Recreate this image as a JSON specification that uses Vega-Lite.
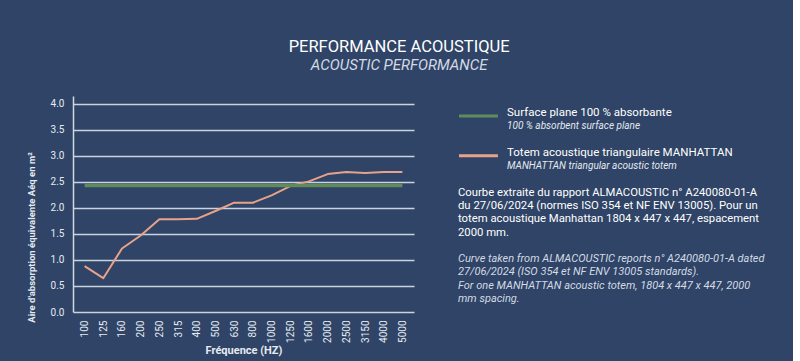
{
  "$schema": "https://vega.github.io/schema/vega-lite/v6.json",
  "background": "#2f4466",
  "padding": {"left": 26, "top": 38, "right": 5, "bottom": 5},
  "title": {
    "text": "PERFORMANCE ACOUSTIQUE",
    "subtitle": "ACOUSTIC PERFORMANCE",
    "anchor": "start",
    "align": "center",
    "dx": 373,
    "font": "Roboto",
    "fontSize": 16.5,
    "fontWeight": "normal",
    "color": "#ffffff",
    "subtitleFont": "Roboto",
    "subtitleFontSize": 15,
    "subtitleFontStyle": "italic",
    "subtitleColor": "#d3dae5",
    "subtitlePadding": 3,
    "offset": 23
  },
  "config": {
    "view": {"stroke": null},
    "font": "Roboto"
  },
  "spacing": 43,
  "hconcat": [
    {
      "width": 341,
      "height": 216,
      "data": {
        "values": [
          {"freq": "100", "value": 0.88, "series": "Totem acoustique triangulaire MANHATTAN"},
          {"freq": "125", "value": 0.65, "series": "Totem acoustique triangulaire MANHATTAN"},
          {"freq": "160", "value": 1.22, "series": "Totem acoustique triangulaire MANHATTAN"},
          {"freq": "200", "value": 1.47, "series": "Totem acoustique triangulaire MANHATTAN"},
          {"freq": "250", "value": 1.78, "series": "Totem acoustique triangulaire MANHATTAN"},
          {"freq": "315", "value": 1.78, "series": "Totem acoustique triangulaire MANHATTAN"},
          {"freq": "400", "value": 1.79, "series": "Totem acoustique triangulaire MANHATTAN"},
          {"freq": "500", "value": 1.94, "series": "Totem acoustique triangulaire MANHATTAN"},
          {"freq": "630", "value": 2.10, "series": "Totem acoustique triangulaire MANHATTAN"},
          {"freq": "800", "value": 2.10, "series": "Totem acoustique triangulaire MANHATTAN"},
          {"freq": "1000", "value": 2.24, "series": "Totem acoustique triangulaire MANHATTAN"},
          {"freq": "1250", "value": 2.42, "series": "Totem acoustique triangulaire MANHATTAN"},
          {"freq": "1600", "value": 2.51, "series": "Totem acoustique triangulaire MANHATTAN"},
          {"freq": "2000", "value": 2.65, "series": "Totem acoustique triangulaire MANHATTAN"},
          {"freq": "2500", "value": 2.69, "series": "Totem acoustique triangulaire MANHATTAN"},
          {"freq": "3150", "value": 2.67, "series": "Totem acoustique triangulaire MANHATTAN"},
          {"freq": "4000", "value": 2.69, "series": "Totem acoustique triangulaire MANHATTAN"},
          {"freq": "5000", "value": 2.69, "series": "Totem acoustique triangulaire MANHATTAN"},
          {"freq": "100", "value": 2.43, "series": "Surface plane 100 % absorbante"},
          {"freq": "5000", "value": 2.43, "series": "Surface plane 100 % absorbante"}
        ]
      },
      "mark": {"type": "line", "strokeJoin": "round"},
      "encoding": {
        "x": {
          "field": "freq",
          "type": "ordinal",
          "sort": ["100","125","160","200","250","315","400","500","630","800","1000","1250","1600","2000","2500","3150","4000","5000"],
          "scale": {"type": "point", "padding": 0.62},
          "axis": {
            "title": "Fréquence (HZ)",
            "titleFont": "Roboto",
            "titleFontSize": 11,
            "titleFontWeight": "bold",
            "titleColor": "#e6ebf2",
            "titlePadding": 2,
            "labelAngle": -90,
            "labelFont": "Roboto",
            "labelFontSize": 10,
            "labelColor": "#e6ebf2",
            "labelPadding": 8,
            "ticks": false,
            "domain": false,
            "grid": false
          }
        },
        "y": {
          "field": "value",
          "type": "quantitative",
          "scale": {"domain": [0, 4.15], "nice": false, "zero": true},
          "axis": {
            "title": "Aire d'absorption équivalente Aéq en m²",
            "titleFont": "Roboto",
            "titleFontSize": 9.5,
            "titleFontWeight": "bold",
            "titleColor": "#e6ebf2",
            "titleY": 141,
            "titlePadding": 14,
            "values": [0, 0.5, 1, 1.5, 2, 2.5, 3, 3.5, 4],
            "format": ".1f",
            "labelFont": "Roboto",
            "labelFontSize": 10,
            "labelColor": "#e6ebf2",
            "labelPadding": 9,
            "ticks": false,
            "domain": true,
            "domainColor": "#d0d8e4",
            "domainWidth": 1.5,
            "grid": true,
            "gridColor": "#c9d3e0",
            "gridWidth": 1.5,
            "gridOpacity": 1
          }
        },
        "color": {
          "field": "series",
          "type": "nominal",
          "scale": {
            "domain": ["Surface plane 100 % absorbante", "Totem acoustique triangulaire MANHATTAN"],
            "range": ["#5f8b5d", "#e9a28a"]
          },
          "legend": null
        },
        "strokeWidth": {
          "field": "series",
          "type": "nominal",
          "scale": {
            "domain": ["Surface plane 100 % absorbante", "Totem acoustique triangulaire MANHATTAN"],
            "range": [3.5, 2]
          },
          "legend": null
        }
      }
    },
    {
      "width": 330,
      "height": 216,
      "data": {
        "values": [
          {"line": 1, "kind": "main", "text": "Surface plane 100 % absorbante"},
          {"line": 2, "kind": "sub", "text": "100 % absorbent surface plane"},
          {"line": 4, "kind": "main", "text": "Totem acoustique triangulaire MANHATTAN"},
          {"line": 5, "kind": "sub", "text": "MANHATTAN triangular acoustic totem"},
          {"line": 7, "kind": "para", "text": "Courbe extraite du rapport ALMACOUSTIC n° A240080-01-A"},
          {"line": 8, "kind": "para", "text": "du 27/06/2024 (normes ISO 354 et NF ENV 13005). Pour un"},
          {"line": 9, "kind": "para", "text": "totem acoustique Manhattan 1804 x 447 x 447, espacement"},
          {"line": 10, "kind": "para", "text": "2000 mm."},
          {"line": 12, "kind": "paraEn", "text": "Curve taken from ALMACOUSTIC reports n° A240080-01-A dated"},
          {"line": 13, "kind": "paraEn", "text": "27/06/2024 (ISO 354 et NF ENV 13005 standards)."},
          {"line": 14, "kind": "paraEn", "text": "For one MANHATTAN acoustic totem, 1804 x 447 x 447, 2000"},
          {"line": 15, "kind": "paraEn", "text": "mm spacing."},
          {"line": 1, "kind": "symbol", "series": "Surface plane 100 % absorbante"},
          {"line": 4, "kind": "symbol", "series": "Totem acoustique triangulaire MANHATTAN"}
        ]
      },
      "encoding": {
        "y": {
          "field": "line",
          "type": "quantitative",
          "scale": {"domain": [-0.28, 15.98], "nice": false, "zero": false, "reverse": true},
          "axis": null
        }
      },
      "layer": [
        {
          "transform": [{"filter": "datum.kind === 'symbol'"}],
          "mark": {"type": "rule", "strokeWidth": 3, "yOffset": 3},
          "encoding": {
            "x": {"datum": 0.3, "type": "quantitative", "scale": {"domain": [0, 100], "nice": false, "zero": false}, "axis": null},
            "x2": {"datum": 12.1},
            "color": {
              "field": "series",
              "type": "nominal",
              "scale": {
                "domain": ["Surface plane 100 % absorbante", "Totem acoustique triangulaire MANHATTAN"],
                "range": ["#5f8b5d", "#e9a28a"]
              },
              "legend": null
            }
          }
        },
        {
          "transform": [{"filter": "datum.kind === 'main'"}],
          "mark": {"type": "text", "align": "left", "baseline": "middle", "font": "Roboto", "fontSize": 11.5, "color": "#ffffff"},
          "encoding": {
            "x": {"datum": 14.85, "type": "quantitative", "scale": {"domain": [0, 100], "nice": false, "zero": false}, "axis": null},
            "text": {"field": "text"}
          }
        },
        {
          "transform": [{"filter": "datum.kind === 'sub'"}],
          "mark": {"type": "text", "align": "left", "baseline": "middle", "font": "Roboto", "fontSize": 10, "fontStyle": "italic", "color": "#e4e9f0"},
          "encoding": {
            "x": {"datum": 14.85, "type": "quantitative", "scale": {"domain": [0, 100], "nice": false, "zero": false}, "axis": null},
            "text": {"field": "text"}
          }
        },
        {
          "transform": [{"filter": "datum.kind === 'para'"}],
          "mark": {"type": "text", "align": "left", "baseline": "middle", "font": "Roboto", "fontSize": 11.3, "color": "#ffffff"},
          "encoding": {
            "x": {"datum": 0, "type": "quantitative", "scale": {"domain": [0, 100], "nice": false, "zero": false}, "axis": null},
            "text": {"field": "text"}
          }
        },
        {
          "transform": [{"filter": "datum.kind === 'paraEn'"}],
          "mark": {"type": "text", "align": "left", "baseline": "middle", "font": "Roboto", "fontSize": 11, "fontStyle": "italic", "color": "#d3dae5"},
          "encoding": {
            "x": {"datum": 0, "type": "quantitative", "scale": {"domain": [0, 100], "nice": false, "zero": false}, "axis": null},
            "text": {"field": "text"}
          }
        }
      ]
    }
  ]
}
